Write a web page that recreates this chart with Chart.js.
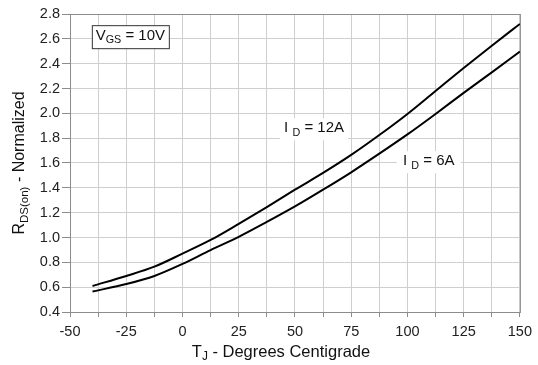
<!DOCTYPE html>
<html>
<head>
<meta charset="utf-8">
<script src="https://cdn.jsdelivr.net/npm/chart.js@4.4.1/dist/chart.umd.min.js"></script>
<style>
  html, body { margin: 0; padding: 0; background: #fff; }
  #wrap { width: 538px; height: 365px; }
</style>
</head>
<body>
<div id="wrap"><canvas id="rdsChart" width="538" height="365"></canvas></div>
<script>
// Junction temperature (deg C) and normalized on-resistance
const tempC = [-40, -25, -12.5, 0, 12.5, 25, 37.5, 50, 62.5, 75, 87.5, 100, 112.5, 125, 137.5, 150];
const rds12A = [0.61, 0.69, 0.765, 0.87, 0.98, 1.11, 1.245, 1.385, 1.52, 1.665, 1.825, 1.995, 2.18, 2.365, 2.545, 2.72];
const rds6A = [0.565, 0.625, 0.69, 0.787, 0.899, 1.005, 1.125, 1.25, 1.385, 1.525, 1.675, 1.83, 1.995, 2.165, 2.33, 2.497];
const xTickLabels = ['-50', '-25', '0', '25', '50', '75', '100', '125', '150'];
const yTickLabels = ['0.4', '0.6', '0.8', '1.0', '1.2', '1.4', '1.6', '1.8', '2.0', '2.2', '2.4', '2.6', '2.8'];

const FONT = '"Liberation Sans", Arial, sans-serif';

function toPoints(ys) {
    return tempC.map((t, i) => ({ x: t, y: ys[i] }));
}

// draw text made of normal and subscript parts, centered on x
function richText(ctx, parts, x, y, size) {
    let w = 0;
    parts.forEach(p => {
        ctx.font = (p[1] ? size * 0.72 : size) + 'px ' + FONT;
        w += ctx.measureText(p[0]).width;
    });
    let cx = x - w / 2;
    parts.forEach(p => {
        ctx.font = (p[1] ? size * 0.72 : size) + 'px ' + FONT;
        ctx.fillText(p[0], cx, p[1] ? y + size * 0.3 : y);
        cx += ctx.measureText(p[0]).width;
    });
    return w;
}

const textPlugin = {
    id: 'textPlugin',
    beforeDatasetsDraw(chart) {
        const ctx = chart.ctx;
        const xs = chart.scales.x;
        const ys = chart.scales.y;
        const a = chart.chartArea;
        ctx.save();

        // frame round the plot
        ctx.strokeStyle = '#8c8c8c';
        ctx.lineWidth = 1;
        ctx.strokeRect(a.left + 0.5, a.top + 0.5, a.right - a.left, a.bottom - a.top);

        ctx.textBaseline = 'middle';
        ctx.textAlign = 'left';
        ctx.fillStyle = '#111';

        // curve labels with white background
        const lab12 = { x: xs.getPixelForValue(58.5), y: ys.getPixelForValue(1.88) };
        const lab6 = { x: xs.getPixelForValue(109.5), y: ys.getPixelForValue(1.615) };
        ctx.fillStyle = '#fff';
        ctx.fillRect(lab12.x - 34, lab12.y - 10, 68, 22);
        ctx.fillRect(lab6.x - 32, lab6.y - 10, 64, 22);
        ctx.fillStyle = '#111';
        richText(ctx, [['I ', false], ['D', true], [' = 12A', false]], lab12.x, lab12.y, 15);
        richText(ctx, [['I ', false], ['D', true], [' = 6A', false]], lab6.x, lab6.y, 15);

        // VGS box
        const bx = xs.getPixelForValue(-40.3);
        const by = ys.getPixelForValue(2.71);
        ctx.fillStyle = '#fff';
        ctx.fillRect(bx, by, 77, 23);
        ctx.strokeStyle = '#333';
        ctx.strokeRect(bx + 0.5, by + 0.5, 77, 23);
        ctx.fillStyle = '#111';
        richText(ctx, [['V', false], ['GS', true], [' = 10V', false]], bx + 38.5, by + 10.5, 15);

        // axis titles
        richText(ctx, [['T', false], ['J', true], [' - Degrees Centigrade', false]], 281, 352, 16.5);
        ctx.translate(20, 163);
        ctx.rotate(-Math.PI / 2);
        richText(ctx, [['R', false], ['DS(on)', true], [' - Normalized', false]], 0, 0, 16);
        ctx.restore();
    }
};

const ctx = document.getElementById('rdsChart');

new Chart(ctx, {
    type: 'scatter',
    data: {
        datasets: [
            {
                label: 'ID = 12A',
                data: toPoints(rds12A),
                showLine: true,
                borderColor: '#000',
                borderWidth: 2,
                pointRadius: 0,
                cubicInterpolationMode: 'monotone'
            },
            {
                label: 'ID = 6A',
                data: toPoints(rds6A),
                showLine: true,
                borderColor: '#000',
                borderWidth: 2,
                pointRadius: 0,
                cubicInterpolationMode: 'monotone'
            }
        ]
    },
    options: {
        responsive: false,
        animation: false,
        layout: { padding: { top: 14, right: 16, left: 0, bottom: 0 } },
        plugins: {
            legend: { display: false },
            tooltip: { enabled: false }
        },
        scales: {
            x: {
                type: 'linear',
                min: -50,
                max: 150,
                afterFit: scale => { scale.height = 53; },
                ticks: {
                    stepSize: 12.5,
                    autoSkip: false,
                    maxRotation: 0,
                    padding: 6,
                    color: '#222',
                    font: { family: FONT, size: 14.5 },
                    callback: v => xTickLabels.includes(String(v)) ? String(v) : ''
                },
                grid: { color: '#cfcfcf', tickColor: '#8c8c8c', tickLength: 5 },
                border: { color: '#8c8c8c' }
            },
            y: {
                min: 0.4,
                max: 2.8,
                afterFit: scale => { scale.width = 70; },
                ticks: {
                    stepSize: 0.2,
                    padding: 2,
                    color: '#222',
                    font: { family: FONT, size: 14.5 },
                    callback: v => yTickLabels.includes(v.toFixed(1)) ? v.toFixed(1) : ''
                },
                grid: { color: '#cfcfcf', tickColor: '#8c8c8c', tickLength: 8 },
                border: { color: '#8c8c8c' }
            }
        }
    },
    plugins: [textPlugin]
});
</script>
</body>
</html>
